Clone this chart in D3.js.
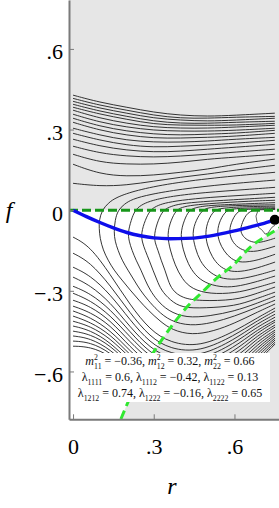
<!DOCTYPE html>
<html>
<head>
<meta charset="utf-8">
<script src="https://cdn.jsdelivr.net/npm/d3@7"></script>
<style>
  body { margin: 0; background: #fff; }
  svg { display: block; }
</style>
</head>
<body>
<div id="chart"></div>
<script>
const SERIF = "'Liberation Serif', 'Times New Roman', 'DejaVu Serif', serif";

// axes
const X_TICKS = [0, 0.3, 0.6];
const X_LABELS = ["0", ".3", ".6"];
const Y_TICKS = [-0.6, -0.3, 0, 0.3, 0.6];
const Y_LABELS = ["\u2212.6", "\u2212.3", "0", ".3", ".6"];
const R_DOMAIN = [-0.015, 0.773];
const F_DOMAIN = [-0.778, 0.782];

// blue path and end point
const BLUE = [[0,0],[0.05,-0.024],[0.1,-0.046],[0.15,-0.066],[0.2,-0.083],[0.25,-0.095],[0.3,-0.103],
  [0.36,-0.106],[0.42,-0.105],[0.48,-0.1],[0.54,-0.09],[0.6,-0.077],[0.66,-0.062],[0.71,-0.049],[0.75,-0.036]];
const DOT = [0.75, -0.036];

// bright green boundary (from bottom edge to right edge)
const GREEN = [[0.178,-0.777],[0.238,-0.639],[0.297,-0.532],[0.361,-0.439],[0.420,-0.364],[0.480,-0.305],
  [0.539,-0.249],[0.599,-0.201],[0.658,-0.138],[0.717,-0.097],[0.773,-0.063]];

// contours above f = 0, sampled at UPPER_R
const UPPER_R = [0, 0.1, 0.2, 0.3, 0.4, 0.5, 0.6, 0.75];
const UPPER_F = [
  [.428,.401,.383,.364,.353,.349,.353,.361],
  [.416,.390,.372,.353,.342,.342,.346,.349],
  [.405,.379,.361,.342,.335,.331,.335,.342],
  [.394,.368,.349,.331,.323,.323,.327,.331],
  [.383,.357,.338,.320,.316,.316,.316,.323],
  [.372,.342,.323,.309,.305,.305,.309,.316],
  [.357,.327,.309,.297,.294,.294,.297,.305],
  [.342,.312,.294,.283,.279,.283,.286,.297],
  [.327,.297,.279,.268,.268,.271,.275,.286],
  [.305,.279,.260,.253,.253,.257,.264,.271],
  [.286,.260,.242,.234,.238,.242,.249,.260],
  [.264,.238,.223,.216,.219,.227,.234,.245],
  [.238,.212,.201,.197,.201,.208,.216,.227],
  [.208,.178,.171,.171,.178,.190,.197,.208],
  [.171,.134,.126,.130,.141,.152,.171,.190],
  [.100,.089,.093,.108,.123,.134,.149,.167]
];

// contours entering from the left below f = 0, sampled at LOWER_R
const LOWER_R = [0, 0.063, 0.138, 0.212, 0.286, 0.361, 0.472, 0.602, 0.677, 0.751];
const LOWER_F = [
  [-.100,-.134,-.238,-.353,-.446,-.494,-.509,-.450,-.405,-.364],
  [-.160,-.193,-.279,-.383,-.472,-.517,-.528,-.465,-.416,-.375],
  [-.212,-.242,-.312,-.409,-.494,-.535,-.546,-.480,-.427,-.387],
  [-.249,-.279,-.342,-.435,-.513,-.554,-.561,-.494,-.439,-.398],
  [-.283,-.309,-.368,-.453,-.532,-.569,-.576,-.509,-.450,-.409],
  [-.309,-.335,-.390,-.472,-.546,-.584,-.591,-.524,-.461,-.416],
  [-.335,-.357,-.409,-.491,-.561,-.599,-.606,-.539,-.472,-.427],
  [-.357,-.379,-.427,-.509,-.576,-.613,-.621,-.554,-.483,-.435],
  [-.375,-.398,-.446,-.524,-.591,-.624,-.632,-.569,-.494,-.446],
  [-.394,-.416,-.461,-.539,-.602,-.636,-.643,-.584,-.506,-.453],
  [-.413,-.431,-.476,-.550,-.613,-.647,-.654,-.599,-.517,-.461],
  [-.431,-.446,-.491,-.565,-.624,-.658,-.665,-.613,-.528,-.468],
  [-.450,-.461,-.502,-.576,-.636,-.669,-.677,-.628,-.539,-.476],
  [-.468,-.476,-.517,-.587,-.647,-.680,-.688,-.643,-.550,-.483],
  [-.487,-.491,-.528,-.599,-.658,-.691,-.695,-.658,-.561,-.491],
  [-.506,-.508,-.539,-.610,-.669,-.699,-.703,-.673,-.572,-.498]
];

// C-shaped contours around the minimum, [r, f] points
const ARCS = [
  [[.751,.141],[.546,.123],[.361,.100],[.234,.074],[.160,.048],[.130,.026],[.108,0],[.097,-.037],[.097,-.067],
   [.100,-.104],[.112,-.149],[.130,-.186],[.152,-.223],[.182,-.260],[.212,-.297],[.245,-.335],[.279,-.372],
   [.323,-.413],[.368,-.446],[.442,-.465],[.524,-.450],[.602,-.420],[.677,-.383],[.751,-.349]],
  [[.751,.112],[.565,.097],[.398,.078],[.286,.059],[.219,.041],[.190,.022],[.167,0],[.156,-.037],[.152,-.082],
   [.156,-.115],[.167,-.149],[.182,-.186],[.204,-.223],[.227,-.260],[.249,-.297],[.279,-.335],[.312,-.372],
   [.361,-.413],[.435,-.431],[.517,-.420],[.602,-.394],[.677,-.364],[.751,-.335]],
  [[.751,.085],[.602,.074],[.454,.063],[.342,.048],[.283,.033],[.253,.019],[.230,0],[.216,-.037],[.204,-.082],
   [.208,-.115],[.219,-.149],[.234,-.186],[.253,-.223],[.268,-.260],[.286,-.297],[.312,-.335],[.353,-.375],
   [.420,-.401],[.509,-.394],[.602,-.375],[.677,-.349],[.751,-.320]],
  [[.751,.063],[.639,.056],[.509,.048],[.398,.037],[.338,.026],[.309,.015],[.286,0],[.268,-.037],[.253,-.085],
   [.257,-.119],[.268,-.149],[.283,-.186],[.297,-.223],[.312,-.260],[.327,-.297],[.361,-.335],[.405,-.364],
   [.491,-.364],[.602,-.357],[.677,-.331],[.751,-.305]],
  [[.751,.048],[.565,.037],[.454,.030],[.387,.022],[.357,.011],[.335,0],[.316,-.037],[.301,-.089],[.305,-.123],
   [.316,-.149],[.327,-.186],[.342,-.223],[.353,-.260],[.368,-.297],[.405,-.327],[.472,-.338],[.602,-.335],
   [.677,-.312],[.751,-.286]],
  [[.751,.037],[.639,.033],[.528,.026],[.442,.019],[.405,.011],[.383,0],[.364,-.037],[.349,-.089],[.361,-.149],
   [.379,-.204],[.405,-.256],[.442,-.294],[.509,-.312],[.602,-.309],[.677,-.290],[.751,-.268]],
  [[.751,.028],[.602,.022],[.491,.017],[.454,.009],[.431,0],[.413,-.037],[.398,-.089],[.409,-.149],[.428,-.201],
   [.454,-.242],[.491,-.271],[.546,-.286],[.602,-.286],[.677,-.268],[.751,-.245]],
  [[.751,.020],[.658,.019],[.546,.015],[.502,.009],[.480,0],[.457,-.037],[.442,-.085],[.454,-.141],[.472,-.190],
   [.502,-.227],[.543,-.253],[.602,-.260],[.677,-.245],[.751,-.223]],
  [[.751,.015],[.621,.013],[.550,.007],[.524,0],[.502,-.037],[.491,-.082],[.498,-.130],[.517,-.175],[.543,-.208],
   [.576,-.227],[.621,-.230],[.684,-.216],[.751,-.193]],
  [[.751,.009],[.677,.009],[.599,.006],[.569,0],[.546,-.037],[.535,-.078],[.543,-.119],[.561,-.152],[.587,-.182],
   [.625,-.197],[.688,-.186],[.751,-.164]],
  [[.751,.006],[.651,.004],[.613,0],[.591,-.037],[.580,-.074],[.587,-.108],[.606,-.134],[.636,-.152],[.680,-.156],
   [.751,-.134]],
  [[.751,.003],[.703,.002],[.654,0],[.632,-.037],[.621,-.071],[.628,-.093],[.647,-.112],[.680,-.123],[.717,-.115],
   [.751,-.104]]
];

// small jagged contour next to the end point
const WIGGLE = [[.688,0],[.680,-.022],[.684,-.045],[.691,-.052],[.688,-.063],[.699,-.071],[.706,-.078],[.714,-.089],
  [.725,-.085],[.732,-.074],[.740,-.063],[.751,-.056]];

// parameter box text: [text, kind]
const LEGEND = [
  [["m","i"],["2","sup"],["11","sub"],[" = \u22120.36, "],["m","i"],["2","sup"],["12","sub"],[" = 0.32, "],
   ["m","i"],["2","sup"],["22","sub"],[" = 0.66"]],
  [["\u03bb"],["1111","sub"],[" = 0.6, "],["\u03bb"],["1112","sub"],[" = \u22120.42, "],["\u03bb"],["1122","sub"],[" = 0.13"]],
  [["\u03bb"],["1212","sub"],[" = 0.74, "],["\u03bb"],["1222","sub"],[" = \u22120.16, "],["\u03bb"],["2222","sub"],[" = 0.65"]]
];

const W = 279, H = 508;
const x = d3.scaleLinear().domain(R_DOMAIN).range([69, 281]);
const y = d3.scaleLinear().domain(F_DOMAIN).range([419.3, 0]);

const svg = d3.select("#chart").append("svg")
  .attr("width", W).attr("height", H)
  .attr("font-family", SERIF);

svg.append("defs").append("clipPath").attr("id", "plot-clip")
  .append("rect")
  .attr("x", x.range()[0]).attr("y", y.range()[1])
  .attr("width", x.range()[1] - x.range()[0])
  .attr("height", y.range()[0] - y.range()[1]);

const plot = svg.append("g").attr("clip-path", "url(#plot-clip)");

// gray background
plot.append("rect")
  .attr("x", x.range()[0]).attr("y", y.range()[1])
  .attr("width", x.range()[1] - x.range()[0])
  .attr("height", y.range()[0] - y.range()[1])
  .attr("fill", "#e6e6e6");

// white region between f = 0 and the green boundary
const lineXY = d3.line().x(d => x(d[0])).y(d => y(d[1]));
const smooth = d3.line().x(d => x(d[0])).y(d => y(d[1])).curve(d3.curveMonotoneX);
const soft = d3.line().x(d => x(d[0])).y(d => y(d[1])).curve(d3.curveBasis);
const gLast = GREEN[GREEN.length - 1];
plot.append("path")
  .attr("d", smooth(GREEN) +
    lineXY([[gLast[0], 0], [R_DOMAIN[0], 0], [R_DOMAIN[0], F_DOMAIN[0]], [GREEN[0][0], F_DOMAIN[0]]]).replace("M", "L") + "Z")
  .attr("fill", "#fff");

// contours
const contours = plot.append("g")
  .attr("fill", "none")
  .attr("stroke", "#1e1e1e")
  .attr("stroke-width", 0.9);

contours.selectAll(".upper").data(UPPER_F).join("path")
  .attr("class", "upper")
  .attr("d", fs => soft(fs.map((f, i) => [UPPER_R[i], f])));

contours.selectAll(".lower").data(LOWER_F).join("path")
  .attr("class", "lower")
  .attr("d", fs => soft(fs.map((f, i) => [LOWER_R[i], f])));

contours.selectAll(".arc").data(ARCS).join("path")
  .attr("class", "arc")
  .attr("d", soft);

contours.append("path").attr("d", lineXY(WIGGLE)).attr("stroke-width", 0.7);

// dashed lines
plot.append("path")
  .attr("d", lineXY([[R_DOMAIN[0], 0], [R_DOMAIN[1], 0]]))
  .attr("stroke", "#17961a").attr("stroke-width", 3)
  .attr("stroke-dasharray", "9,4").attr("fill", "none");

plot.append("path")
  .attr("d", smooth(GREEN))
  .attr("stroke", "#30e830").attr("stroke-width", 3)
  .attr("stroke-dasharray", "9,5").attr("fill", "none");

plot.append("path")
  .attr("d", smooth(BLUE))
  .attr("stroke", "#0e0eea").attr("stroke-width", 3.4)
  .attr("fill", "none");

plot.append("circle")
  .attr("cx", x(DOT[0])).attr("cy", y(DOT[1]))
  .attr("r", 5).attr("fill", "#000");

// parameter box
svg.append("rect")
  .attr("x", 70).attr("y", 353).attr("width", 200).attr("height", 49)
  .attr("fill", "#fff");

const legend = svg.append("g")
  .attr("font-size", 12)
  .attr("fill", "#111")
  .style("white-space", "pre");

LEGEND.forEach((segs, row) => {
  const t = legend.append("text")
    .attr("x", 170).attr("y", 365 + row * 16)
    .attr("text-anchor", "middle");
  let cur = 0, prev = null;
  segs.forEach(([txt, kind]) => {
    const target = kind === "sup" ? -5.5 : kind === "sub" ? 3.5 : 0;
    const s = t.append("tspan").text(txt).attr("dy", target - cur);
    if (kind === "sup" || kind === "sub") s.attr("font-size", 7.8);
    if (kind === "i") s.attr("font-style", "italic");
    if (kind === "sub" && prev === "sup") s.attr("dx", -3.9);
    cur = target;
    prev = kind;
  });
});

// axes
const xAxis = d3.axisBottom(x)
  .tickValues(X_TICKS)
  .tickFormat((d, i) => X_LABELS[i])
  .tickSizeInner(-5).tickSizeOuter(0).tickPadding(19);

const yAxis = d3.axisLeft(y)
  .tickValues(Y_TICKS)
  .tickFormat((d, i) => Y_LABELS[i])
  .tickSizeInner(-5).tickSizeOuter(0).tickPadding(6);

const gx = svg.append("g").attr("transform", `translate(0,${y.range()[0]})`).call(xAxis);
const gy = svg.append("g").attr("transform", `translate(${x.range()[0]},0)`).call(yAxis);

[gx, gy].forEach(g => {
  g.attr("font-family", SERIF).attr("font-size", 22);
  g.select(".domain").attr("stroke", "#7a7a7a").attr("stroke-width", 2);
  g.selectAll(".tick line").attr("stroke", "#7a7a7a").attr("stroke-width", 1);
  g.selectAll(".tick text").attr("fill", "#000");
});
gy.selectAll(".tick text").attr("dy", "0.45em");

// axis titles
svg.append("text").text("f")
  .attr("x", 9).attr("y", 218)
  .attr("text-anchor", "middle")
  .attr("font-style", "italic").attr("font-size", 24);

svg.append("text").text("r")
  .attr("x", 172).attr("y", 494)
  .attr("text-anchor", "middle")
  .attr("font-style", "italic").attr("font-size", 24);
</script>
</body>
</html>
